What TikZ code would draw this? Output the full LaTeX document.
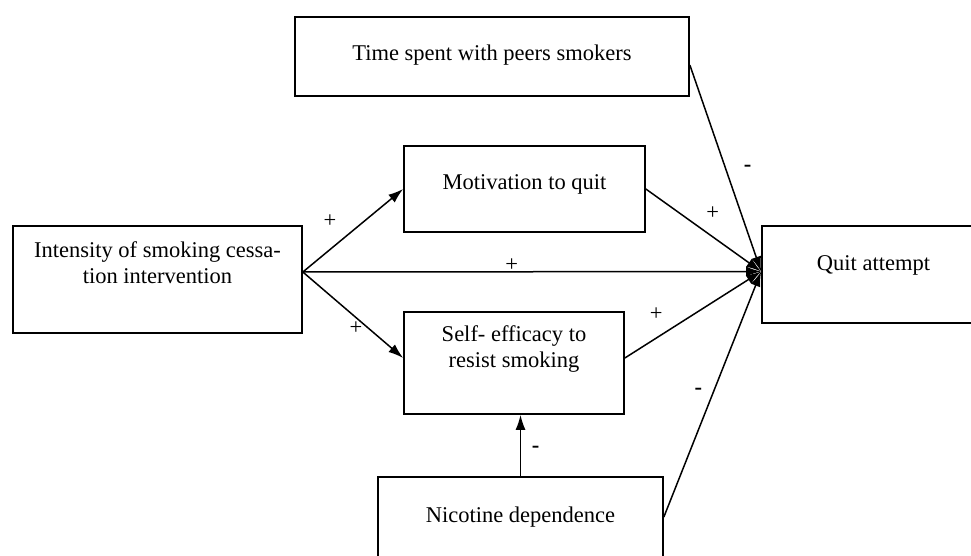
\documentclass[tikz,border=0pt]{standalone}
\usepackage{fontspec}
\setmainfont{Liberation Serif}
\usetikzlibrary{arrows.meta}
\tikzset{
  box/.style={draw, line width=1.7pt, inner sep=0pt, align=center, font=\fontsize{22.5}{26}\selectfont},
  link/.style={->, line width=1.5pt},
  sign/.style={inner sep=0pt, font=\fontsize{22.5}{26}\selectfont}
}
\begin{document}
\begin{tikzpicture}[>={Latex[length=15pt,width=10pt]}, x=1pt, y=-1pt]
\useasboundingbox (0,0) rectangle (971,556);
\node[box, minimum width=394pt, minimum height=79pt, text depth=8pt] (peers) at (492,56.5) {Time spent with peers smokers};
\node[box, minimum width=241pt, minimum height=86pt, text depth=13pt] (motiv) at (524.5,189) {Motivation to quit};
\node[box, minimum width=289pt, minimum height=107pt] (inten) at (157.5,279.5) {Intensity of smoking cessa-\\tion intervention\\ \strut};
\node[box, minimum width=220pt, minimum height=102pt] (self) at (514,363) {Self- efficacy to\\resist smoking\\ \strut};
\node[box, minimum width=223pt, minimum height=97pt, text depth=22pt] (quit) at (873.5,274.5) {Quit attempt};
\node[box, minimum width=285pt, minimum height=80pt] (nic) at (520.5,517) {Nicotine dependence};

\coordinate (hit) at ([yshift=3pt]quit.west);
\coordinate (fan) at ([yshift=7.5pt]inten.east);

\draw[link] (fan) -- node[sign, pos=.27, yshift=28pt] (p1) {+} (motiv.west);
\draw[link] (fan) -- node[sign, pos=.53, yshift=-11pt] (p2) {+} ([yshift=5pt]self.west);
\draw[link] (fan) -- node[sign, pos=.456, yshift=7pt] (p3) {+} (hit);
\draw[link] ([yshift=-8.5pt]peers.east) -- node[sign, pos=.5, xshift=22pt] (m1) {\textbf{-}} (hit);
\draw[link] (motiv.east) -- node[sign, pos=.58, yshift=24pt] (p4) {+} (hit);
\draw[link] ([yshift=5pt]self.east) -- node[sign, pos=.23, yshift=24pt] (p5) {+} (hit);
\draw[link] (nic.east) -- node[sign, pos=.51, xshift=-15pt] (m2) {\textbf{-}} (hit);
\draw[link] (nic.north) -- node[sign, pos=.43, xshift=15pt] (m3) {\textbf{-}} (nic.north |- self.south);

\end{tikzpicture}
\end{document}
